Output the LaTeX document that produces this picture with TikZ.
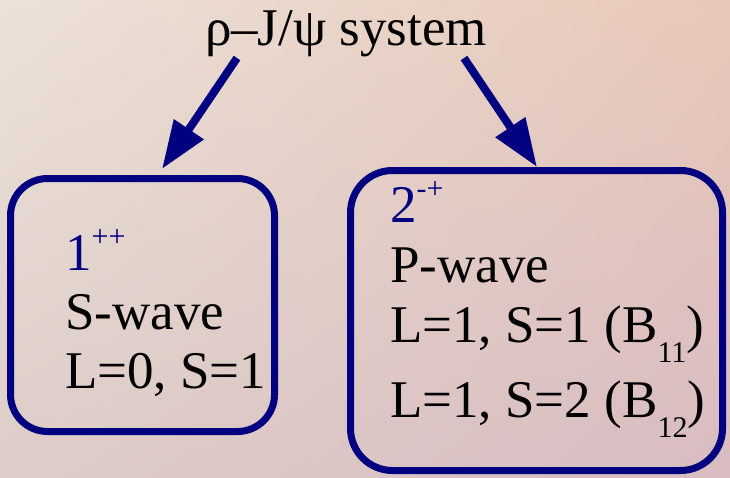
\documentclass[tikz,border=0pt]{standalone}
\usepackage{fontspec}
\setmainfont{Liberation Serif}
\usetikzlibrary{arrows.meta,shadings}
\definecolor{boxnavy}{RGB}{0,0,128}
\definecolor{bgul}{RGB}{236,225,217}
\definecolor{bgur}{RGB}{232,200,184}
\definecolor{bgll}{RGB}{221,205,200}
\definecolor{bglr}{RGB}{216,188,194}
\newcommand{\lowidx}[1]{\raisebox{-20pt}{\fontsize{30}{32}\selectfont #1}}
\newcommand{\highidx}[1]{\raisebox{24pt}{\fontsize{30}{32}\selectfont #1}}

\begin{document}
\begin{tikzpicture}[x=1pt,y=-1pt,
  every node/.style={font=\fontsize{53}{63}\selectfont},
  wavebox/.style={draw=boxnavy,line width=7pt,inner sep=0pt},
  waveline/.style={anchor=base west,inner sep=0pt},
  link/.style={draw=boxnavy,line width=8pt,-{Triangle[length=48pt,width=34pt]}}]
  % background
  \shade[upper left=bgul,upper right=bgur,lower left=bgll,lower right=bglr]
    (0,0) rectangle (730,477);
  \useasboundingbox (0,0) rectangle (730,477);
  \node[anchor=base,inner sep=0pt] (title) at (346,45) {ρ–J/ψ system};
  % the two boxes
  \node[wavebox,rounded corners=37pt,minimum width=264pt,minimum height=253pt]
    (swave) at (142.5,305) {};
  \node[wavebox,rounded corners=42pt,minimum width=372pt,minimum height=300pt]
    (pwave) at (536.5,320.5) {};
  \node[waveline,text=boxnavy] (sjpc) at (65,270) {1\highidx{++}};
  \node[waveline] (sname) at (65,329) {S-wave};
  \node[waveline] (sls) at (65,388) {L=0, S=1};
  \node[waveline,text=boxnavy] (pjpc) at (390,222) {2\highidx{-+}};
  \node[waveline] (pname) at (390,282) {P-wave};
  \node[waveline] (pone) at (390,342) {L=1, S=1 (B\lowidx{11})};
  \node[waveline] (ptwo) at (390,417) {L=1, S=2 (B\lowidx{12})};
  % arrows
  \coordinate (stail) at (237,58);
  \coordinate (stip) at (162,169);
  \coordinate (ptail) at (464,58);
  \coordinate (ptip) at (537,167);
  \draw[link] (stail) -- (stip);
  \draw[link] (ptail) -- (ptip);
\end{tikzpicture}
\end{document}
